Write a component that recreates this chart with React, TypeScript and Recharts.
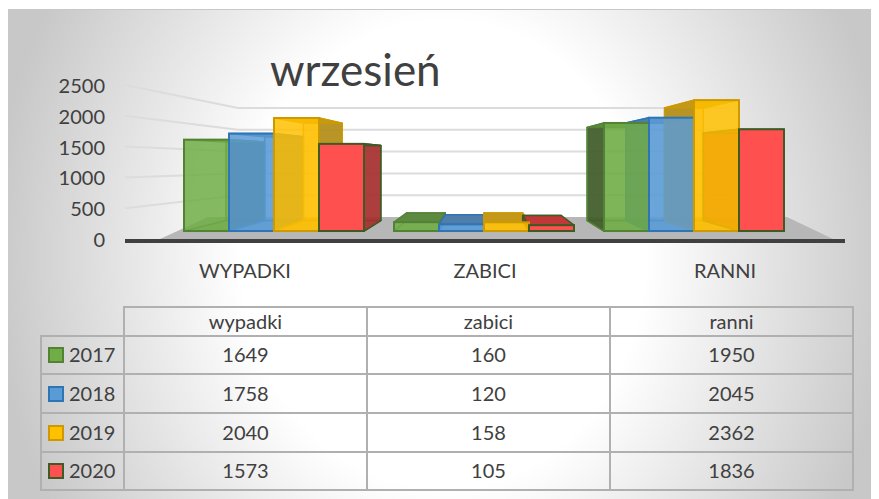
import { BarChart, Bar, XAxis, YAxis } from 'recharts'

const categories = ['WYPADKI', 'ZABICI', 'RANNI']
const tableHeaders = ['wypadki', 'zabici', 'ranni']
const years = ['2017', '2018', '2019', '2020']
const values2017 = [1649, 160, 1950]
const values2018 = [1758, 120, 2045]
const values2019 = [2040, 158, 2362]
const values2020 = [1573, 105, 1836]
const yTicks = [0, 500, 1000, 1500, 2000, 2500]

const allValues = [values2017, values2018, values2019, values2020]
const chartData = categories.map((name, i) => ({
  name,
  y2017: values2017[i],
  y2018: values2018[i],
  y2019: values2019[i],
  y2020: values2020[i],
}))

const FONT = 'Lato, sans-serif'
const TEXT = '#404040'

const styles = [
  { fill: '#70AD47', stroke: '#548235', side: '#3f5a2a', top: '#5c8a40', alpha: 0.85 },
  { fill: '#5B9BD5', stroke: '#2E75B6', side: '#44719c', top: '#4f7fa8', alpha: 0.85 },
  { fill: '#FFC000', stroke: '#CC9A00', side: '#b08c18', top: '#c4981a', alpha: 0.85 },
  { fill: '#FF5050', stroke: '#3F5A25', side: '#a33030', top: '#c03838', alpha: 1 },
]

// vanishing point of the fake 3D boxes
const VP = { x: 476, y: 146 }
const DEPTH = 0.14

const toBack = (x: number, y: number) => ({
  x: x + (VP.x - x) * DEPTH,
  y: y + (VP.y - y) * DEPTH,
})

const pts = (list: { x: number; y: number }[]) => list.map((p) => `${p.x},${p.y}`).join(' ')

// rear of a box: back wall, floor, the side facing the centre and the top
function BoxRear(props: any) {
  const { x, y, width, height, look } = props
  const fl = x
  const fr = x + width
  const ft = y
  const fb = y + height
  const nearX = fr < VP.x ? fr : fl
  const bTL = toBack(fl, ft)
  const bTR = toBack(fr, ft)
  const bBL = toBack(fl, fb)
  const bBR = toBack(fr, fb)
  const nearT = toBack(nearX, ft)
  const nearB = toBack(nearX, fb)
  return (
    <g strokeWidth={1.5} stroke={look.stroke} strokeLinejoin="round">
      <polygon points={pts([bTL, bTR, bBR, bBL])} fill={look.fill} fillOpacity={0.35} />
      <polygon points={pts([bBL, bBR, { x: fr, y: fb }, { x: fl, y: fb }])} fill={look.fill} fillOpacity={0.4} />
      <polygon points={pts([{ x: nearX, y: ft }, nearT, nearB, { x: nearX, y: fb }])} fill={look.side} fillOpacity={0.9} />
      <polygon points={pts([bTL, bTR, { x: fr, y: ft }, { x: fl, y: ft }])} fill={look.top} />
    </g>
  )
}

function BoxFront(props: any) {
  const { x, y, width, height, look } = props
  return (
    <rect
      x={x}
      y={y}
      width={width}
      height={height}
      fill={look.fill}
      fillOpacity={look.alpha}
      stroke={look.stroke}
      strokeWidth={2}
    />
  )
}

// y tick: label plus the bent 3D gridline, the zero tick also lays the floor
function WallTick(props: any) {
  const { x, y, payload } = props
  const wallY = 207 - (231 - y) * (109 / 154)
  const isZero = payload.value === 0
  return (
    <g>
      {isZero ? <polygon points="152,229 200,207 779,207 825,229" fill="#b7b7b7" /> : null}
      {isZero ? null : (
        <polyline
          points={`${x + 8},${y - 2} 230,${wallY} 722,${wallY}`}
          fill="none"
          stroke="#dcdcdc"
          strokeWidth={2}
        />
      )}
      <text x={x - 12} y={y} dy={6} textAnchor="end" fontFamily={FONT} fontSize={20} fill={TEXT}>
        {payload.value}
      </text>
    </g>
  )
}

const borderColor = '#b0b0b0'
const cell = { border: `2px solid ${borderColor}`, padding: '0 0 2px', textAlign: 'center' as const }
const rowHeights = [38, 39, 39, 38]
const barPadding = { left: 44, right: 46 }

export default function App() {
  return (
    <div
      style={{
        position: 'relative',
        width: 871,
        height: 490,
        marginTop: 1,
        overflow: 'hidden',
        borderTop: '1px solid #c8c8c8',
        boxSizing: 'border-box',
        background: 'radial-gradient(ellipse 450px 520px at 50% 50%, #ffffff 45%, #c8c8c8 100%)',
      }}
    >
      <style>{'html,body{overflow:hidden}'}</style>

      {/* wall, floor and axes sit in their own chart, behind the boxes */}
      <div style={{ position: 'absolute', left: 0, top: 0 }}>
        <BarChart
          width={871}
          height={300}
          data={chartData}
          margin={{ top: 77, right: 34, bottom: 68, left: 57 }}
        >
          <YAxis
            yAxisId="wall"
            width={60}
            domain={[0, 2500]}
            ticks={yTicks}
            interval={0}
            allowDataOverflow
            axisLine={false}
            tickLine={false}
            tick={<WallTick />}
          />
          <XAxis
            xAxisId="labels"
            dataKey="name"
            height={1}
            axisLine={{ stroke: '#404040', strokeWidth: 4 }}
            tickLine={false}
            tickMargin={17}
            tick={{ fontFamily: FONT, fontSize: 20, fill: TEXT }}
          />
        </BarChart>
      </div>

      <div style={{ position: 'absolute', left: 0, top: 0 }}>
        <BarChart
          width={871}
          height={300}
          data={chartData}
          barGap={0}
          barCategoryGap={15}
          margin={{ top: 76, right: 34, bottom: 70, left: 117 }}
        >
          <YAxis yAxisId="bars" hide domain={[-162, 2617]} allowDataOverflow />
          <XAxis xAxisId="rear" dataKey="name" hide height={0} padding={barPadding} />
          <XAxis xAxisId="front" dataKey="name" hide height={0} padding={barPadding} />
          {years.map((year, i) => (
            <Bar
              key={year}
              xAxisId="rear"
              yAxisId="bars"
              dataKey={`y${year}`}
              isAnimationActive={false}
              shape={(p: any) => <BoxRear {...p} look={styles[i]} />}
            />
          ))}
          {years.map((year, i) => (
            <Bar
              key={year}
              xAxisId="front"
              yAxisId="bars"
              dataKey={`y${year}`}
              isAnimationActive={false}
              shape={(p: any) => <BoxFront {...p} look={styles[i]} />}
            />
          ))}
        </BarChart>
      </div>

      <div
        style={{
          position: 'absolute',
          left: 262,
          top: 31,
          fontFamily: FONT,
          fontSize: 44,
          lineHeight: '56px',
          color: TEXT,
        }}
      >
        wrzesień
      </div>

      <table
        style={{
          position: 'absolute',
          left: 32,
          top: 296,
          width: 813,
          tableLayout: 'fixed',
          borderCollapse: 'collapse',
          fontFamily: FONT,
          fontSize: 20,
          color: TEXT,
        }}
      >
        <colgroup>
          <col style={{ width: 83 }} />
          <col style={{ width: 243 }} />
          <col style={{ width: 243 }} />
          <col style={{ width: 243 }} />
        </colgroup>
        <tbody>
          <tr style={{ height: 29 }}>
            <td style={{ padding: 0 }} />
            {tableHeaders.map((h) => (
              <td key={h} style={cell}>
                {h}
              </td>
            ))}
          </tr>
          {years.map((year, r) => (
            <tr key={year} style={{ height: rowHeights[r] }}>
              <td style={{ ...cell, textAlign: 'left', paddingLeft: 6 }}>
                <span
                  style={{
                    display: 'inline-block',
                    width: 12,
                    height: 12,
                    marginRight: 5,
                    verticalAlign: -1,
                    background: styles[r].fill,
                    border: `2px solid ${styles[r].stroke}`,
                  }}
                />
                {year}
              </td>
              {allValues[r].map((v, c) => (
                <td key={c} style={cell}>
                  {v}
                </td>
              ))}
            </tr>
          ))}
        </tbody>
      </table>
    </div>
  )
}
